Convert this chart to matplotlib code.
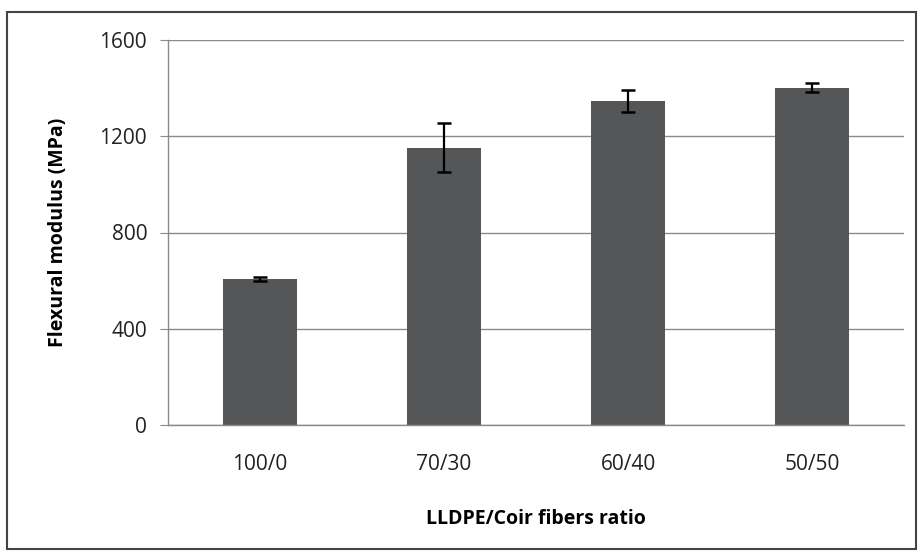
import numpy as np
import matplotlib.pyplot as plt
from matplotlib.patches import Rectangle

ratios = ["100/0", "70/30", "60/40", "50/50"]
modulus = [605, 1152, 1347, 1402]
modulus_err = [8, 102, 47, 20]
yticks = [0, 400, 800, 1200, 1600]

plt.rcParams['font.family'] = ['Open Sans', 'DejaVu Sans']

fig = plt.figure(figsize=(9.21, 5.54), dpi=100)
ax = fig.add_axes([168 / 921, 1 - 425 / 554, 736 / 921, 385 / 554])

x = np.arange(len(ratios))
ax.bar(x, modulus, width=0.4, color='#555658', zorder=2)
ax.errorbar(x, modulus, yerr=modulus_err, fmt='none', ecolor='black',
            elinewidth=1.6, capsize=5, capthick=1.8, zorder=3)

ax.set_xlim(-0.5, 3.5)
ax.set_ylim(0, 1600)
ax.set_yticks(yticks)
ax.set_xticks(x)
ax.set_xticklabels(ratios)
ax.yaxis.grid(True, color='#8a8a8a', linewidth=1)
ax.set_axisbelow(True)

for side in ['top', 'right']:
    ax.spines[side].set_visible(False)
for side in ['left', 'bottom']:
    ax.spines[side].set_color('#8a8a8a')
    ax.spines[side].set_linewidth(1)

ax.tick_params(axis='y', length=6, color='#8a8a8a', labelsize=15, pad=9, labelcolor='#222222')
ax.tick_params(axis='x', length=0, labelsize=15, pad=21, labelcolor='#222222')

ax.set_ylabel('Flexural modulus (MPa)', fontsize=14, fontweight='bold', labelpad=23)
ax.set_xlabel('LLDPE/Coir fibers ratio', fontsize=14, fontweight='bold', labelpad=24)

fig.patches.append(Rectangle((7 / 921, 1 - 549 / 554), 909 / 921, 537 / 554,
                             transform=fig.transFigure, fill=False,
                             edgecolor='#444444', linewidth=1.5))

fig.savefig('out.png', dpi=100)
